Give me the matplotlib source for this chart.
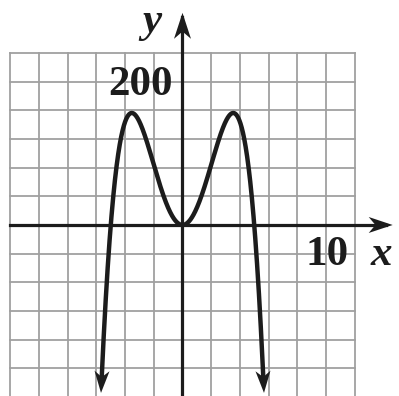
import numpy as np
import matplotlib
matplotlib.use("Agg")
import matplotlib.pyplot as plt
from matplotlib.patches import Polygon
from matplotlib.transforms import IdentityTransform

# y = -x^4 + 25x^2  (coefficients, highest power first)
coeffs = [-1, 0, 25, 0, 0]
x_end = 5.68          # where the curve arrows stop

x_ticks = np.arange(-12, 13, 2)
y_ticks = np.arange(-280, 241, 40)
x_label_val = 10
y_label_val = 200

GRID = "#a0a0a0"
INK = "#1c1c1c"

fig = plt.figure(figsize=(3.99, 3.96), dpi=100)
ax = fig.add_axes([0, 0, 1, 1])
ax.set_xlim(-12.72, 15.09)
ax.set_ylim(-238.6, 313.9)
ax.axis("off")

# grid
for gx in x_ticks:
    ax.plot([gx, gx], [y_ticks[0], y_ticks[-1]], color=GRID, lw=1.3, zorder=1)
for gy in y_ticks:
    ax.plot([x_ticks[0], x_ticks[-1]], [gy, gy], color=GRID, lw=1.3, zorder=1)

# axes lines
ax.plot([-12, 14.2], [0, 0], color=INK, lw=2.3, zorder=2)
ax.plot([0, 0], [-260, 290], color=INK, lw=2.3, zorder=2)


def stealth(tip, prev, length, width):
    """Draw a filled arrowhead in pixel space, pointing from prev to tip."""
    t = ax.transData.transform(tip)
    p = ax.transData.transform(prev)
    d = (t - p) / np.hypot(*(t - p))
    n = np.array([-d[1], d[0]])
    pts = [t,
           t - d * length + n * width / 2,
           t - d * length * 0.72,
           t - d * length - n * width / 2]
    ax.add_patch(Polygon(pts, closed=True, color=INK, lw=0,
                         transform=IdentityTransform(), zorder=4))


# curve, trimmed so the line ends inside the arrowheads
xs = np.linspace(-x_end, x_end, 2000)
ys = np.polyval(coeffs, xs)
pix = ax.transData.transform(np.column_stack([xs, ys]))
d_first = np.hypot(*(pix - pix[0]).T)
d_last = np.hypot(*(pix - pix[-1]).T)
keep = (d_first > 14) & (d_last > 14)
ax.plot(xs[keep], ys[keep], color=INK, lw=3.2, zorder=3,
        solid_capstyle="butt")

i0 = np.argmax(d_first > 20)
i1 = len(xs) - 1 - np.argmax(d_last[::-1] > 20)
stealth((xs[0], ys[0]), (xs[i0], ys[i0]), 22, 15)
stealth((xs[-1], ys[-1]), (xs[i1], ys[i1]), 22, 15)
stealth((14.65, 0), (10, 0), 24, 16)
stealth((0, 296), (0, 200), 26, 17)

font = dict(family="Liberation Serif", color=INK, fontsize=31)
ax.text(-2.93, 181, str(y_label_val), ha="center", va="baseline",
        fontweight="bold", **font)
ax.text(10.1, -56, str(x_label_val), ha="center", va="baseline",
        fontweight="bold", **font)
ax.text(13.83, -56, "x", ha="center", va="baseline",
        fontweight="bold", style="italic", **font)
ax.text(-2.1, 269, "y", ha="center", va="baseline",
        fontweight="bold", style="italic", **font)

fig.savefig("out.png", dpi=100)
